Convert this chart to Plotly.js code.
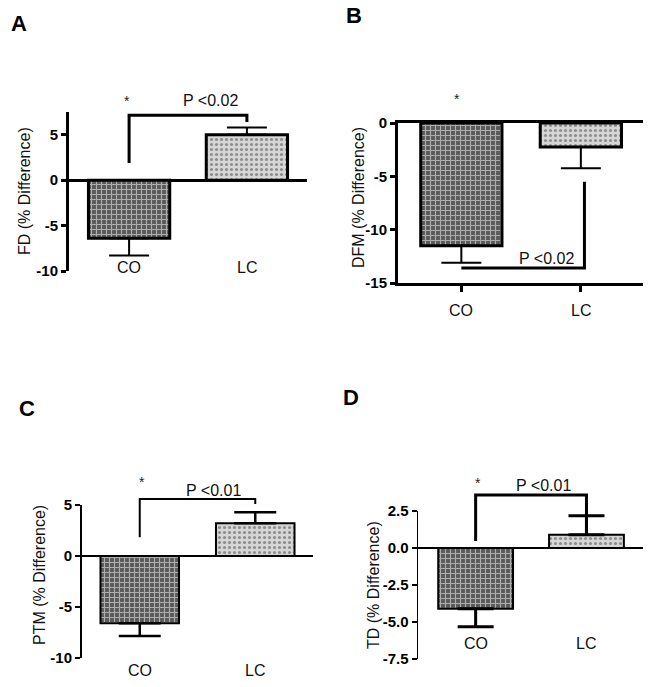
<!DOCTYPE html>
<html>
<head>
<meta charset="utf-8">
<script src="https://cdn.plot.ly/plotly-3.0.1.min.js"></script>
<style>html,body{margin:0;padding:0;background:#fff;}#chart{width:657px;height:687px;}</style>
</head>
<body>
<div id="chart"></div>
<script>
// ---- data ----
const categories = ['CO', 'LC'];
const fdMean  = [-6.4, 5.0];
const fdErr   = [1.9, 0.8];
const dfmMean = [-11.5, -2.25];
const dfmErr  = [1.6, 2.0];
const ptmMean = [-6.6, 3.2];
const ptmErr  = [1.25, 1.1];
const tdMean  = [-4.1, 0.9];
const tdErr   = [1.22, 1.28];
const fdTicks  = [-10, -5, 0, 5];
const dfmTicks = [-15, -10, -5, 0];
const ptmTicks = [-10, -5, 0, 5];
const tdTicks  = [-7.5, -5.0, -2.5, 0.0, 2.5];
const panelLetters = ['A', 'B', 'C', 'D'];
const yTitles = ['FD (% Difference)', 'DFM (% Difference)', 'PTM (% Difference)', 'TD (% Difference)'];
const pTexts = ['P <0.02', 'P <0.02', 'P <0.01', 'P <0.01'];

// ---- layout helpers ----
const W = 657, H = 687;
const px = v => v / W;
const py = v => 1 - v / H;
const FONT = 'Liberation Sans, Arial, sans-serif';
const xPos = categories.map((_, i) => i);

// bracket: [x, y] points in axis values (x: category index, y: value)
const panels = [
  {mean: fdMean,  err: fdErr,  ticks: fdTicks, dec: 0, xd: [69, 307],  yd: [271, 112], xr: [-0.51, 1.51], yr: [-10, 7.5],
   lw: 3, axw: 3, tickw: 3, ebw: 20, ebt: 2, bw: 0.69, zl: true, zlw: 3, catY: 267,
   letter: [19, 23], title: [25, 191], star: [127, 101], ptxt: [210, 101],
   bracket: [[0, 1.9], [0, 7.15], [1, 7.15], [1, 6.4]], bracketW: 3},
  {mean: dfmMean, err: dfmErr, ticks: dfmTicks, dec: 0, xd: [398, 643], yd: [283, 123], xr: [-0.53, 1.52], yr: [-15, 0],
   lw: 3, axw: 3, tickw: 3, ebw: 20, ebt: 2, bw: 0.68, zl: false, zlw: 3, catY: 310,
   letter: [354, 15], title: [358, 198], star: [457, 99], ptxt: [546, 258],
   bracket: [[0, -13.6], [1.03, -13.6], [1.03, -5.5]], bracketW: 3},
  {mean: ptmMean, err: ptmErr, ticks: ptmTicks, dec: 0, xd: [82, 313],  yd: [658, 505], xr: [-0.5, 1.5], yr: [-10, 5],
   lw: 2, axw: 2, tickw: 2, ebw: 21, ebt: 2.5, bw: 0.68, zl: true, zlw: 1.5, catY: 670,
   letter: [27, 408], title: [39, 575], star: [142, 482], ptxt: [213, 490],
   bracket: [[0, 1.85], [0, 5.6], [1, 5.6], [1, 5.1]], bracketW: 2},
  {mean: tdMean,  err: tdErr,  ticks: tdTicks, dec: 1, xd: [418, 643], yd: [659, 511], xr: [-0.52, 1.51], yr: [-7.5, 2.5],
   lw: 2, axw: 1.5, tickw: 1.5, ebw: 18, ebt: 3, bw: 0.675, zl: true, zlw: 1.5, catY: 643,
   letter: [351, 397], title: [373, 585], star: [478, 483], ptxt: [543, 485],
   bracket: [[0, 0.47], [0, 3.58], [1, 3.58], [1, 0.95]], bracketW: 3}
];

const data = [];
const layout = {
  width: W, height: H,
  margin: {l: 0, r: 0, t: 0, b: 0},
  paper_bgcolor: '#fff', plot_bgcolor: '#fff',
  showlegend: false,
  font: {family: FONT, color: '#111'},
  shapes: [], annotations: []
};

panels.forEach((p, i) => {
  const n = i === 0 ? '' : String(i + 1);
  const xa = 'x' + n, ya = 'y' + n;
  data.push({
    type: 'bar', x: xPos, y: p.mean, width: p.bw,
    xaxis: xa, yaxis: ya,
    marker: {
      color: ['#5a5a5a', '#d6d6d6'],
      line: {color: '#000', width: p.lw},
      pattern: {
        shape: ['+', '.'],
        bgcolor: ['#4c4c4c', '#d9d9d9'],
        fgcolor: ['#e6e6e6', '#8a8a8a'],
        size: [5, 5],
        solidity: [0.4, 0.3],
        fillmode: 'overlay'
      }
    },
    error_y: {
      type: 'data', symmetric: false,
      array: p.mean.map((m, k) => m >= 0 ? p.err[k] : 0),
      arrayminus: p.mean.map((m, k) => m < 0 ? p.err[k] : 0),
      color: '#000', thickness: p.ebt, width: p.ebw
    },
    hoverinfo: 'skip'
  });
  layout['xaxis' + n] = {
    domain: [px(p.xd[0]), px(p.xd[1])], anchor: ya, range: p.xr,
    tickvals: xPos, ticktext: categories, showticklabels: false,
    showgrid: false, zeroline: false,
    showline: i === 1, mirror: i === 1, linecolor: '#000', linewidth: p.axw,
    ticks: i === 1 ? 'outside' : '', ticklen: 6, tickwidth: 3, tickcolor: '#000'
  };
  layout['yaxis' + n] = {
    domain: [py(p.yd[0]), py(p.yd[1])], anchor: xa, range: p.yr,
    tickmode: 'array', tickvals: p.ticks,
    ticktext: p.ticks.map(v => '<b>' + v.toFixed(p.dec) + '</b>'),
    showgrid: false, zeroline: p.zl, zerolinecolor: '#000', zerolinewidth: p.zlw,
    showline: true, linecolor: '#000', linewidth: p.axw,
    ticks: 'outside', ticklen: 5, tickwidth: p.tickw, tickcolor: '#000',
    tickfont: {family: FONT, size: 15, color: '#000'}
  };
  // significance bracket: x in axis units, y as fraction of the axis domain (so it may rise above the range without clipping)
  const toDom = v => (v - p.yr[0]) / (p.yr[1] - p.yr[0]);
  const path = p.bracket.map((pt, k) => (k === 0 ? 'M ' : 'L ') + pt[0] + ',' + toDom(pt[1])).join(' ');
  layout.shapes.push({type: 'path', xref: xa, yref: ya + ' domain', path: path,
    line: {color: '#000', width: p.bracketW}});
  // category labels
  categories.forEach((c, k) => {
    layout.annotations.push({text: c, xref: xa, yref: 'paper', x: k, y: py(p.catY),
      showarrow: false, xanchor: 'center', yanchor: 'middle',
      font: {family: FONT, size: 16, color: '#111'}});
  });
  // y title
  layout.annotations.push({text: yTitles[i], xref: 'paper', yref: 'paper', x: px(p.title[0]), y: py(p.title[1]),
    textangle: -90, showarrow: false, xanchor: 'center', yanchor: 'middle',
    font: {family: FONT, size: 16, color: '#111'}});
  // panel letter
  layout.annotations.push({text: '<b>' + panelLetters[i] + '</b>', xref: 'paper', yref: 'paper',
    x: px(p.letter[0]), y: py(p.letter[1]), showarrow: false, xanchor: 'center', yanchor: 'middle',
    font: {family: FONT, size: 22, color: '#000'}});
  // star and p-value
  layout.annotations.push({text: '*', xref: 'paper', yref: 'paper', x: px(p.star[0]), y: py(p.star[1]),
    showarrow: false, xanchor: 'center', yanchor: 'middle', font: {family: FONT, size: 14, color: '#222'}});
  layout.annotations.push({text: pTexts[i], xref: 'paper', yref: 'paper', x: px(p.ptxt[0]), y: py(p.ptxt[1]),
    showarrow: false, xanchor: 'center', yanchor: 'middle', font: {family: FONT, size: 16, color: '#111'}});
});

Plotly.newPlot('chart', data, layout, {staticPlot: true, displayModeBar: false});
</script>
</body>
</html>
